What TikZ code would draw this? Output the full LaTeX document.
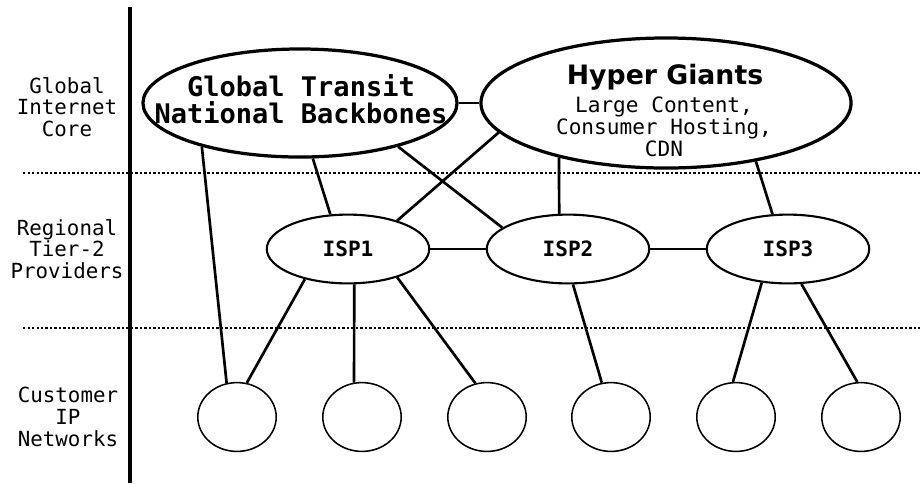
\documentclass[tikz,border=0pt]{standalone}
\usepackage{fontspec}
\newfontfamily\dvmono{DejaVu Sans Mono}
\newfontfamily\dvsans{DejaVu Sans}
\usetikzlibrary{shapes.geometric}

\begin{document}
\begin{tikzpicture}[
  x=0.025cm, y=-0.025cm,
  font=\dvmono\fontsize{14.8}{15.4}\selectfont,
  lbl/.style  = {align=center, inner sep=0pt},
  big/.style  = {draw, ellipse, line width=2.3pt, inner sep=0pt},
  isp/.style  = {draw, ellipse, line width=1.5pt, inner sep=0pt,
                 minimum width=4.06cm, minimum height=1.72cm,
                 font=\dvmono\bfseries\fontsize{15}{18}\selectfont},
  cust/.style = {draw, ellipse, line width=1.1pt, inner sep=0pt,
                 minimum width=1.96cm, minimum height=1.72cm},
  lnk/.style  = {line width=1.9pt},
  sep/.style  = {line width=2pt, dash pattern=on 1.5pt off 1.7pt},
]

\useasboundingbox (0,0) rectangle (920,483);

% tiers
\draw[line width=2.2pt] (130,7) -- (130,483);
\draw[sep] (23,173) -- (920,173);
\draw[sep] (23,328) -- (920,328);

\node[lbl] (lcore) at (67,107) {Global\\Internet\\Core};
\node[lbl] (lreg)  at (67,249) {Regional\\Tier-2\\Providers};
\node[lbl] (lcust) at (68,417) {Customer\\IP\\Networks};

% core
\node[big, minimum width=7.85cm, minimum height=2.7cm] (glob) at (300,103) {};
\node[lbl, font=\dvmono\bfseries\fontsize{19.2}{19.2}\selectfont]
  (globtxt) at (301,99) {Global Transit\\National Backbones};

\node[big, minimum width=9.25cm, minimum height=3.25cm] (hyper) at (666,103) {};
\node[lbl, anchor=base, font=\dvsans\bfseries\fontsize{19}{19}\selectfont]
  (hypertxt) at (665,84) {Hyper Giants};
\node[lbl, font=\dvmono\fontsize{15}{15.6}\selectfont]
  (hypersub) at (664,127) {Large Content,\\Consumer Hosting,\\CDN};

% regional
\node[isp] (isp1) at (348,249) {ISP1};
\node[isp] (isp2) at (568,249) {ISP2};
\node[isp] (isp3) at (788,249) {ISP3};

% customers
\foreach \i/\cx in {1/237,2/362,3/487,4/611,5/736,6/861}
  \node[cust] (c\i) at (\cx,417) {};

\draw[lnk] (glob.east) -- (hyper.west);
\draw[lnk] (glob.204)  -- (c1.107);
\draw[lnk] (glob.-77)  -- (isp1.117);
\draw[lnk] (glob.-24)  -- (isp2.162);
\draw[lnk] (hyper.190) -- (isp1.30);
\draw[lnk] (hyper.-153) -- (isp2.104);
\draw[lnk] (hyper.-33) -- (isp3.114);

\draw[lnk] (isp1.east) -- (isp2.west);
\draw[lnk] (isp2.east) -- (isp3.west);

\draw[lnk] (isp1.215) -- (c1.74);
\draw[lnk] (isp1.-80) -- (c2.103);
\draw[lnk] (isp1.-30) -- (c3.109);
\draw[lnk] (isp2.-82) -- (c4.105);
\draw[lnk] (isp3.-128) -- (c5.95);
\draw[lnk] (isp3.-69) -- (c6.96);

\end{tikzpicture}
\end{document}
